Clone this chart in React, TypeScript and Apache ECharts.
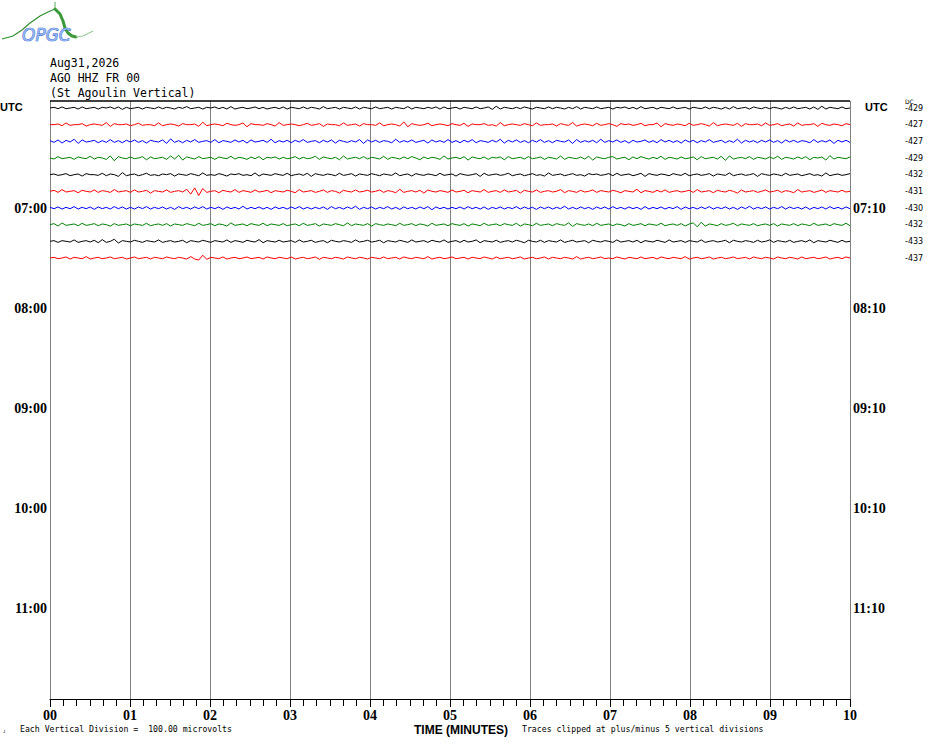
import React, { useEffect, useRef } from "react";
import * as echarts from "echarts";

// ---------- data ----------
const MINUTE_LABELS = ["00", "01", "02", "03", "04", "05", "06", "07", "08", "09", "10"];
const HOUR_ROWS = [6, 12, 18, 24, 30];
const HOUR_LABELS_LEFT = ["07:00", "08:00", "09:00", "10:00", "11:00"];
const HOUR_LABELS_RIGHT = ["07:10", "08:10", "09:10", "10:10", "11:10"];
const DC_OFFSETS = [-429, -427, -427, -429, -432, -431, -430, -432, -433, -437];
const TRACE_COLORS = ["#000000", "#ff0000", "#0000ff", "#008000"];
const UNITS_PER_ROW = 48;

const TRACE_0 = [
  0,2,-2,3,-2,0,2,-3,3,-2,0,2,-3,2,0,3,-2,3,-4,2,
  -2,0,2,-3,2,0,-2,3,-2,2,0,-3,2,-1,4,-2,0,2,-3,2,
  0,3,-2,2,-3,4,-3,0,2,-2,0,3,-2,2,-3,0,2,-2,3,-3,
  2,0,-2,3,-2,2,0,-3,4,-2,0,2,-3,2,0,-2,3,-3,2,0,
  -2,3,-2,0,2,-3,2,0,-2,4,-3,2,0,-2,2,-1,3,-3,3,-2,
  0,2,-3,2,0,-2,3,-2,0,3,-4,5,-3,2,0,-2,2,-2,3,0,
  -3,2,0,-2,3,-2,2,0,-3,2,-2,4,-3,2,0,-2,3,-2,0,2,
  -3,2,0,3,-2,2,-3,4,-2,0,2,-3,2,0,-2,3,-2,0,2,-3,
  2,0,-2,3,-2,2,0,-3,2,-3,4,-2,0,2,-3,3,0,-2,2,-2,
  2,0,-3,2,-2,3,-2,0,2,-3,3,-4,5,-3,2,0,-2,3,-2,0,
];
const TRACE_1 = [
  0,0,2,-3,5,-2,0,0,3,-4,0,2,0,-2,6,-5,3,0,0,2,
  -3,0,4,-2,0,0,-3,5,-3,0,2,0,-4,3,0,0,2,-5,7,-3,
  0,2,0,-3,4,0,-2,0,5,-6,3,0,0,-2,3,0,-4,6,-2,0,
  2,0,-3,0,4,-2,0,3,-5,2,0,0,-3,5,-2,0,2,-4,3,0,
  0,-2,5,-3,0,2,0,-4,8,-6,3,0,-2,0,4,-3,0,2,0,-3,
  3,0,-2,4,-5,2,0,0,3,-2,0,-4,6,-3,0,2,0,-2,3,0,
  -3,5,-2,0,0,2,-4,3,0,-2,6,-4,0,2,0,-3,4,-2,0,3,
  0,-5,3,0,2,-2,0,4,-3,0,0,5,-6,3,0,-2,2,0,-3,4,
  -2,0,3,0,-4,6,-3,0,2,0,-2,4,-5,3,0,0,2,-3,5,-2,
  0,3,-3,0,2,-4,5,-2,0,0,3,-5,4,0,-2,2,0,-3,3,0,
];
const TRACE_2 = [
  2,-3,4,-5,3,-2,6,-6,4,-2,0,3,-4,2,-3,5,-3,2,-4,3,
  -2,4,-3,2,-5,3,0,-2,4,-6,7,-3,2,-4,3,-2,5,-3,0,2,
  -3,5,-4,2,0,-3,4,-2,3,-5,4,-2,0,3,-3,6,-4,2,-2,3,
  -4,3,-2,5,-3,0,2,-4,3,-2,4,-5,3,0,-3,2,-2,5,-6,4,
  -2,3,-3,2,0,-4,6,-3,2,-2,4,-3,0,3,-5,4,-2,2,-3,5,
  -3,2,-4,3,-2,5,-4,2,0,-3,3,-2,6,-5,3,-2,4,-3,2,-4,
  3,-2,5,-3,2,-4,3,0,-2,4,-6,5,-3,2,-2,3,-4,6,-3,2,
  -2,4,-3,2,-5,3,-2,0,4,-3,2,-4,5,-2,3,-3,2,-5,4,-2,
  3,-4,2,-2,5,-3,0,3,-4,2,-3,6,-5,3,-2,2,-4,3,-2,4,
  -3,2,-5,4,-2,3,-3,2,0,-4,5,-3,2,-2,4,-6,3,-2,3,-3,
];
const TRACE_3 = [
  0,-3,4,-2,0,2,-4,3,0,-2,5,-3,2,0,-4,6,-8,4,0,-2,
  3,-2,0,4,-5,3,-2,0,2,-4,6,-3,8,-6,3,0,-3,4,-2,0,
  2,-4,3,0,-2,5,-3,2,0,-4,3,-2,4,-5,2,0,3,-3,2,-2,
  0,4,-3,2,-2,0,5,-4,3,0,-2,2,-5,6,-3,0,2,-2,4,-3,
  2,0,-3,5,-4,2,0,-3,3,-2,4,0,-5,3,-2,2,0,-4,6,-3,
  0,2,-2,4,-6,3,0,-2,3,-4,2,0,3,-5,4,-2,0,2,-3,4,
  -2,0,3,-4,2,0,-3,6,-4,2,0,-2,3,-3,5,-6,3,0,-2,2,
  4,-3,0,2,-5,3,-2,4,0,-3,2,-2,5,-4,2,0,-3,3,-2,0,
  3,-5,4,-2,0,2,-3,5,-7,6,-3,0,2,-2,4,-4,2,0,-3,3,
  -2,5,-4,2,0,-3,3,-2,4,-5,2,0,3,-6,7,-3,2,0,-2,3,
];
const TRACE_4 = [
  0,2,-2,0,3,-3,0,2,-4,3,0,0,-2,4,-3,2,0,-5,6,-3,
  0,2,-3,0,4,-2,0,-3,2,0,3,-4,2,0,-2,3,0,-3,5,-2,
  0,-2,3,0,-4,2,0,3,-2,0,-3,5,-4,2,0,-2,3,0,-2,4,
  -3,0,2,-2,4,-5,3,0,-2,2,0,-3,4,-2,0,3,-4,2,0,-2,
  3,0,-3,2,0,-2,5,-3,0,2,-4,3,0,-2,2,0,-3,4,-2,0,
  2,-4,3,0,-2,0,3,-5,4,-2,0,2,-2,0,4,-3,0,2,-3,0,
  3,-2,0,-4,5,-2,0,2,-3,0,3,-2,0,-4,3,0,2,-2,0,3,
  -3,4,-2,0,2,-3,0,4,-5,3,0,-2,2,0,-3,3,0,-2,4,-3,
  0,2,-2,0,3,-4,2,0,-2,5,-3,0,2,-2,0,3,-5,3,0,-2,
  2,0,-3,4,-2,0,2,-3,0,3,-2,0,-4,5,-3,0,2,-2,0,3,
];
const TRACE_5 = [
  0,3,-3,5,-2,0,2,-4,3,0,-2,4,-3,2,0,-3,5,-2,0,2,
  -3,4,-2,0,3,-5,2,0,-2,4,-3,0,2,-2,6,-8,10,-12,8,-3,
  0,2,-4,3,0,-2,5,-3,2,0,-3,4,-2,0,3,-4,2,0,-2,3,
  0,-4,5,-2,0,2,-3,0,4,-3,2,0,-5,3,0,-2,4,-2,0,3,
  -2,0,4,-3,2,0,-4,6,-3,0,2,-2,3,-5,4,0,-2,2,0,-3,
  4,-2,0,3,-4,2,0,-2,5,-3,0,2,-3,4,-2,0,3,-5,3,0,
  -2,4,-3,0,2,-2,0,5,-4,2,0,-3,3,-2,0,4,-3,2,0,-2,
  3,0,-4,2,0,-2,6,-4,2,0,-3,3,-2,4,-3,0,2,-2,0,3,
  -3,5,-2,0,2,-4,3,0,-2,3,0,-5,4,-2,0,2,-3,0,4,-2,
  0,3,-3,2,0,-4,5,-2,0,2,-3,0,4,-3,2,0,-2,3,-2,0,
];
const TRACE_6 = [
  2,-2,3,-3,2,-2,4,-3,2,-2,3,-4,3,-2,2,-3,4,-2,3,-3,
  2,-3,3,-2,4,-3,2,-2,3,-3,2,-4,4,-2,2,-3,3,-2,4,-3,
  2,-2,3,-4,3,-2,2,-3,5,-3,2,-2,3,-3,2,-4,3,-2,2,-3,
  3,-2,4,-3,2,-3,2,-2,3,-4,4,-2,2,-3,3,-2,5,-4,2,-2,
  3,-3,2,-2,4,-3,2,-4,3,-2,2,-3,3,-2,4,-5,3,-2,2,-3,
  2,-2,3,-3,4,-2,2,-3,3,-4,2,-2,3,-3,2,-2,4,-3,3,-2,
  2,-4,3,-2,3,-3,2,-2,5,-3,2,-3,3,-2,2,-4,3,-2,3,-3,
  4,-2,2,-3,3,-2,2,-4,4,-3,2,-2,3,-3,2,-2,4,-4,3,-2,
  2,-3,3,-2,4,-3,2,-2,3,-3,2,-4,3,-2,5,-3,2,-2,3,-3,
  2,-2,4,-3,3,-2,2,-3,3,-4,2,-2,3,-3,4,-2,2,-3,3,-2,
];
const TRACE_7 = [
  0,3,-4,5,-2,0,2,-3,4,-2,0,3,-3,2,0,-4,3,-2,0,2,
  -3,2,0,-2,4,-3,0,2,-2,3,-4,2,0,-2,3,0,-3,4,-2,0,
  3,-3,2,0,-4,5,-2,0,2,-3,3,0,-2,4,-3,2,0,-2,3,-3,
  0,2,-3,4,-2,0,3,-4,2,0,-2,3,0,-3,5,-3,2,0,-2,3,
  -4,3,0,-2,2,0,-3,4,-2,0,3,-3,2,0,-4,4,-2,0,2,-3,
  3,0,-2,3,-4,2,0,-3,4,-2,0,2,-3,3,0,-2,4,-4,2,0,
  -3,4,-2,0,2,-3,3,0,-2,5,-5,3,0,-2,2,-3,4,-2,0,2,
  -3,2,0,-4,3,-2,0,3,-3,2,0,-2,4,-3,0,2,-2,3,-4,2,
  5,-6,7,-4,2,0,-3,3,-2,0,4,-3,2,0,-2,3,-3,0,2,-2,
  3,-4,2,0,-2,3,-3,2,0,-3,4,-2,0,2,-3,3,0,-2,4,-3,
];
const TRACE_8 = [
  0,2,-3,2,0,-2,4,-3,0,2,-2,3,-4,5,-3,0,6,-5,2,0,
  -2,3,0,-3,2,0,-2,4,-3,0,2,-2,0,3,-4,2,0,-2,3,0,
  -3,2,0,-2,4,-3,2,0,-3,3,0,-2,5,-4,2,0,-2,3,-2,0,
  2,-3,4,-2,0,3,-3,0,2,-4,3,0,-2,2,0,-3,4,-2,0,3,
  -2,0,3,-4,2,0,-2,3,0,-3,4,-2,0,2,-3,3,0,-2,4,-3,
  0,2,-3,3,-2,0,4,-4,2,0,-2,3,-3,0,2,-2,3,0,-4,3,
  0,-2,3,-3,2,0,-2,4,-3,0,3,-2,0,2,-4,3,0,-2,2,0,
  -3,4,-2,0,2,-2,3,-4,2,0,-2,3,0,-3,4,-2,0,2,-3,2,
  0,-2,4,-3,0,2,-2,0,3,-4,3,0,-2,2,0,-3,3,-2,0,4,
  -3,2,0,-2,3,-3,0,2,-2,4,-4,2,0,-2,3,0,-3,3,-2,0,
];
const TRACE_9 = [
  0,2,-2,0,3,-3,2,0,-2,4,-3,0,2,-2,0,3,-2,0,2,-3,
  0,3,-2,0,2,-3,2,0,-2,3,0,-2,2,0,-3,4,-3,-6,8,-4,
  2,0,-2,3,-3,0,2,-2,0,3,-2,0,2,-3,3,0,-2,2,0,-2,
  3,-3,0,2,-2,0,3,-4,2,0,-2,2,0,-3,3,0,-2,2,0,-3,
  2,0,-2,3,-2,0,2,-3,3,0,-2,2,0,-2,4,-3,0,2,-2,0,
  3,-2,0,2,-3,2,0,-2,3,0,-3,3,-2,0,2,-2,0,3,-3,0,
  2,-2,0,3,-3,2,0,-2,2,0,-3,4,-3,0,2,-2,0,3,-2,0,
  -2,3,0,-3,2,0,-2,3,-2,0,2,-3,3,0,-2,2,0,-2,4,-3,
  0,2,-2,0,3,-3,0,2,-2,0,3,-2,0,2,-3,3,0,-2,2,0,
  -3,3,0,-2,2,0,-3,3,-2,0,2,-2,0,3,-3,0,2,-2,3,0,
];
const TRACES = [TRACE_0, TRACE_1, TRACE_2, TRACE_3, TRACE_4, TRACE_5, TRACE_6, TRACE_7, TRACE_8, TRACE_9];

const TITLE_LINES = ["Aug31,2026", "AGO HHZ FR 00", "(St Agoulin Vertical)"];
const FOOTER_LEFT = "Each Vertical Division =  100.00 microvolts";
const FOOTER_MID = "TIME (MINUTES)";
const FOOTER_RIGHT = "Traces clipped at plus/minus 5 vertical divisions";

// ---------- chart ----------
const GRID = { left: 50, top: 101, width: 800, height: 598 };
const Y_MIN = -0.42;
const Y_MAX = 35.46;

function buildOption(): any {
  const series: any[] = TRACES.map((arr, row) => ({
    type: "line",
    xAxisIndex: 0,
    yAxisIndex: 0,
    symbol: "none",
    showSymbol: false,
    silent: true,
    lineStyle: { width: 1, color: TRACE_COLORS[row % TRACE_COLORS.length] },
    data: arr.map((v, i) => [(i * 10) / (arr.length - 1), row - v / UNITS_PER_ROW]),
  }));
  // top border of the plot, drawn at the top of the y range
  series[0].markLine = {
    silent: true,
    symbol: ["none", "none"],
    label: { show: false },
    lineStyle: { color: "#000", type: "solid", width: 1.6 },
    data: [{ yAxis: Y_MIN }],
  };

  const hourFmtLeft = (v: number) => {
    const k = HOUR_ROWS.indexOf(Math.round(v));
    return k >= 0 ? HOUR_LABELS_LEFT[k] : "";
  };
  const hourFmtRight = (v: number) => {
    const k = HOUR_ROWS.indexOf(Math.round(v));
    return k >= 0 ? HOUR_LABELS_RIGHT[k] : "";
  };

  const labelFont = {
    fontFamily: "Liberation Serif",
    fontWeight: "bold",
    fontSize: 14,
    color: "#000",
  };

  return {
    animation: false,
    backgroundColor: "#ffffff",
    title: {
      text: TITLE_LINES.join("\n"),
      left: 50,
      top: 55,
      padding: 0,
      textStyle: {
        fontFamily: "DejaVu Sans Mono",
        fontSize: 11.5,
        fontWeight: "normal",
        color: "#000",
        lineHeight: 15,
      },
    },
    grid: { ...GRID, containLabel: false },
    xAxis: {
      type: "value",
      position: "bottom",
      min: 0,
      max: 10,
      interval: 1,
      axisLine: { show: true, onZero: false, lineStyle: { color: "#000", width: 1 } },
      axisTick: { show: true, length: 8, lineStyle: { color: "#000" } },
      minorTick: { show: true, splitNumber: 6, length: 7, lineStyle: { color: "#000" } },
      splitLine: { show: true, lineStyle: { color: "#808080", width: 1 } },
      axisLabel: {
        ...labelFont,
        lineHeight: 12,
        margin: 10,
        formatter: (v: number) => MINUTE_LABELS[Math.round(v)] ?? "",
      },
    },
    yAxis: [
      {
        type: "value",
        position: "left",
        inverse: true,
        min: Y_MIN,
        max: Y_MAX,
        axisLine: { show: false, onZero: false },
        axisTick: { show: false },
        splitLine: { show: false },
        axisLabel: {
          ...labelFont,
          margin: 3,
          customValues: HOUR_ROWS,
          formatter: hourFmtLeft,
        },
      },
      {
        type: "value",
        position: "right",
        inverse: true,
        min: Y_MIN,
        max: Y_MAX,
        axisLine: { show: false, onZero: false },
        axisTick: { show: false },
        splitLine: { show: false },
        axisLabel: {
          ...labelFont,
          margin: 3,
          customValues: HOUR_ROWS,
          formatter: hourFmtRight,
        },
      },
      {
        type: "value",
        position: "right",
        inverse: true,
        min: Y_MIN,
        max: Y_MAX,
        axisLine: { show: false, onZero: false },
        axisTick: { show: false },
        splitLine: { show: false },
        axisLabel: {
          fontFamily: "DejaVu Sans",
          fontSize: 8,
          color: "#000",
          margin: 55,
          customValues: DC_OFFSETS.map((_, i) => i),
          formatter: (v: number) => {
            const k = Math.round(v);
            return k >= 0 && k < DC_OFFSETS.length ? String(DC_OFFSETS[k]) : "";
          },
        },
      },
    ],
    series,
    graphic: [
      // OPGC logo
      {
        type: "polyline",
        silent: true,
        shape: { points: [[2, 39], [13, 36], [22, 30], [30, 23], [40, 16], [48, 12], [55, 9]] },
        style: { stroke: "#2f8f2f", lineWidth: 1.2, fill: null },
      },
      {
        type: "line",
        silent: true,
        shape: { x1: 55, y1: 2, x2: 55, y2: 9 },
        style: { stroke: "#5aa85a", lineWidth: 1 },
      },
      {
        type: "polyline",
        silent: true,
        shape: { points: [[55, 9], [60, 14], [63, 21], [65, 28], [68, 33], [72, 36], [76, 37]] },
        style: { stroke: "#3a9a3a", lineWidth: 3, fill: null, lineCap: "round", lineJoin: "round" },
      },
      {
        type: "polyline",
        silent: true,
        shape: { points: [[76, 37], [83, 36], [93, 31]] },
        style: { stroke: "#9acb9a", lineWidth: 1.2, fill: null },
      },
      {
        type: "text",
        silent: true,
        x: 22,
        y: 26,
        style: {
          text: "OPGC",
          fontFamily: "DejaVu Sans",
          fontStyle: "italic",
          fontSize: 17,
          fill: "#8fb4f0",
          stroke: "#1a4fc8",
          lineWidth: 0.7,
        },
      },
      // UTC labels
      {
        type: "text",
        silent: true,
        x: 0,
        y: 101,
        style: { text: "UTC", fontFamily: "Liberation Sans", fontWeight: "bold", fontSize: 11, fill: "#000" },
      },
      {
        type: "text",
        silent: true,
        x: 865,
        y: 101,
        style: { text: "UTC", fontFamily: "Liberation Sans", fontWeight: "bold", fontSize: 11, fill: "#000" },
      },
      {
        type: "text",
        silent: true,
        x: 905,
        y: 98,
        style: { text: "DC", fontFamily: "DejaVu Sans", fontSize: 6, fill: "#000" },
      },
      // footer
      {
        type: "text",
        silent: true,
        x: 3,
        y: 727,
        style: { text: "\u1d0a", fontFamily: "DejaVu Sans", fontSize: 6, fill: "#000" },
      },
      {
        type: "text",
        silent: true,
        x: 20,
        y: 725,
        style: { text: FOOTER_LEFT, fontFamily: "DejaVu Sans Mono", fontSize: 8.2, fill: "#000" },
      },
      {
        type: "text",
        silent: true,
        x: 414,
        y: 723.5,
        style: { text: FOOTER_MID, fontFamily: "Liberation Sans", fontWeight: "bold", fontSize: 12, lineHeight: 12, fill: "#000" },
      },
      {
        type: "text",
        silent: true,
        x: 522,
        y: 725,
        style: { text: FOOTER_RIGHT, fontFamily: "DejaVu Sans Mono", fontSize: 8.2, fill: "#000" },
      },
    ],
  };
}

export default function App() {
  const ref = useRef<HTMLDivElement>(null);
  useEffect(() => {
    if (!ref.current) return;
    const chart = echarts.init(ref.current, null, { renderer: "svg" });
    chart.setOption(buildOption());
    return () => chart.dispose();
  }, []);
  return (
    <div
      ref={ref}
      style={{ position: "fixed", left: 0, top: 0, width: 930, height: 744, background: "#fff" }}
    />
  );
}
